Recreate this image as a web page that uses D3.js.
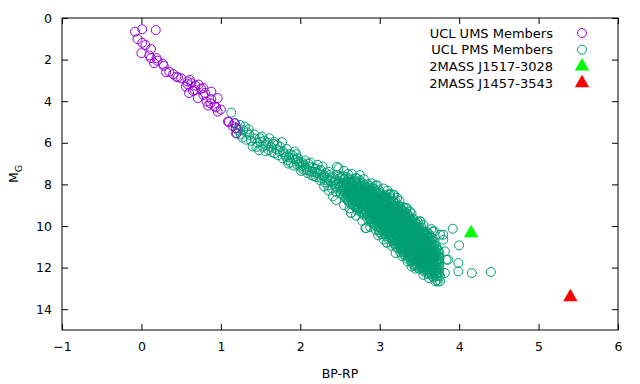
<!DOCTYPE html>
<html>
<head>
<meta charset="utf-8">
<script src="https://cdn.jsdelivr.net/npm/d3@7"></script>
<style>
  body { margin: 0; background: #fff; }
  svg { font-family: "DejaVu Sans", sans-serif; }
</style>
</head>
<body>
<div id="chart"></div>
<script>
// UCL upper main sequence members [BP-RP, M_G]
const umsStars = [
  [-0.08,0.66],[0.01,0.54],[0.18,0.58],[-0.05,1.01],[0.01,1.19],[0.00,1.69],[0.12,1.50],
  [0.12,1.93],[0.19,1.93],[0.16,2.17],[0.28,2.30],[0.35,2.58],[0.31,2.61],[0.44,2.82],
  [0.46,2.85],[0.56,3.30],[0.61,2.98],[0.63,3.13],[0.58,3.18],[0.67,3.46],[0.60,3.61],
  [0.71,3.85],[0.78,3.37],[0.88,3.54],[0.78,3.70],[0.82,4.02],[0.84,4.21],[0.87,4.10],
  [0.96,3.85],[0.96,4.50],[1.09,4.98],[1.17,5.06],[1.19,5.30],[1.20,5.54],[1.00,4.40],
  [0.92,4.25],[0.88,3.90],[0.72,3.20],[0.80,3.60],[0.50,2.90],[0.27,2.20],[0.20,2.05],
  [0.10,1.80],[0.05,1.30],[1.15,5.20],[1.10,5.00],[0.94,4.30],[0.65,3.50],[0.75,3.40],
  [0.40,2.70],[0.58,3.05],[0.68,3.25]
];

// UCL pre-main sequence members [BP-RP, M_G]
const pmsStars = [
  [1.13,4.55],[1.24,5.14],[1.21,5.38],[1.30,5.22],[1.27,5.75],[1.33,5.50],[1.18,5.05],[1.36,5.62],
  [1.38,5.90],[1.40,6.18],[1.43,5.80],[1.46,6.00],[1.49,5.78],[1.50,5.95],[1.53,6.18],[1.55,5.90],
  [1.57,6.10],[1.61,5.78],[1.60,6.35],[1.63,6.20],[1.66,6.05],[1.68,6.50],[1.70,6.30],[1.72,6.60],
  [1.74,6.40],[1.77,5.97],[1.78,6.75],[1.80,6.55],[1.82,6.66],[1.84,6.85],[1.86,6.70],[1.88,6.95],
  [1.90,6.60],[1.93,6.42],[1.94,6.80],[1.96,7.05],[1.98,6.90],[2.00,7.15],[2.02,6.95],[2.04,7.30],
  [2.05,7.05],[2.07,7.20],[2.09,7.45],[2.10,7.00],[2.12,7.35],[2.14,7.55],[2.16,7.20],[2.18,7.40],
  [2.20,7.65],[2.22,7.06],[2.23,7.50],[2.25,7.80],[2.26,7.30],[2.28,7.14],[2.29,7.60],[2.31,7.90],
  [2.32,7.45],[2.34,7.70],[2.35,8.05],[2.37,7.55],[2.38,7.85],[2.40,8.20],[2.41,7.65],[2.43,8.00],
  [2.44,7.80],[2.45,8.35],[2.46,7.15],[2.48,7.22],[2.47,7.95],[2.49,8.15],[2.50,7.70],[2.51,8.45],
  [2.52,7.95],[2.53,8.25],[2.54,7.60],
  [2.01,7.35],[2.03,7.10],[2.06,6.85],[2.08,7.30],[2.11,7.15],[2.13,6.95],[2.15,7.40],[2.17,7.60],
  [2.19,7.25],[2.21,7.45],[2.24,7.35],[2.27,7.70],[2.30,7.55],[2.33,7.80],[2.36,7.40],[2.39,7.70],
  [2.42,7.90],[2.44,8.10],[2.47,7.55],[2.49,7.85],[2.50,8.05],[2.52,8.30],[2.53,7.65],[2.41,8.58],
  [2.36,8.30],[2.30,8.10],
  [1.75,6.20],[1.79,6.45],[1.83,6.30],[1.87,6.55],[1.91,6.75],[1.95,6.55],[1.97,6.75],[1.99,7.00],
  [1.85,7.00],[1.92,7.10],
  [1.19,5.55],[1.22,5.30],[1.25,5.60],[1.28,5.40],[1.32,5.85],[1.35,5.35],[1.42,5.60],[1.45,6.20],
  [1.48,6.35],[1.52,5.70],[1.56,6.40],[1.59,6.00],[1.64,6.45],[1.67,5.95],[1.71,6.10],
  [2.55,7.75],[2.55,7.95],[2.55,8.10],[2.55,8.30],[2.55,8.50],
  [2.58,7.85],[2.58,8.05],[2.58,8.25],[2.58,8.45],[2.58,8.70],
  [2.61,7.70],[2.61,7.90],[2.61,8.15],[2.61,8.35],[2.61,8.60],[2.61,8.85],
  [2.64,7.95],[2.64,8.20],[2.64,8.40],[2.64,8.65],[2.64,9.37],
  [2.67,7.80],[2.67,8.05],[2.67,8.30],[2.67,8.50],[2.67,8.75],[2.67,9.00],
  [2.70,7.70],[2.70,8.00],[2.70,8.20],[2.70,8.45],[2.70,8.70],[2.70,8.95],
  [2.73,7.90],[2.73,8.15],[2.73,8.35],[2.73,8.60],[2.73,8.85],[2.73,9.15],
  [2.76,8.05],[2.76,8.25],[2.76,8.50],[2.76,8.75],[2.76,9.00],[2.76,9.30],
  [2.79,7.95],[2.79,8.20],[2.79,8.40],[2.79,8.65],[2.79,8.90],[2.79,9.20],[2.79,9.45],
  [2.82,8.10],[2.82,8.35],[2.82,8.55],[2.82,8.80],[2.82,9.05],[2.82,9.30],[2.82,10.10],
  [2.85,8.00],[2.85,8.25],[2.85,8.50],[2.85,8.70],[2.85,8.95],[2.85,9.20],[2.85,9.50],
  [2.88,8.20],[2.88,8.45],[2.88,8.65],[2.88,8.90],[2.88,9.10],[2.88,9.35],[2.88,9.65],
  [2.91,8.15],[2.91,8.40],[2.91,8.60],[2.91,8.85],[2.91,9.05],[2.91,9.30],[2.91,9.55],[2.91,9.80],
  [2.94,8.30],[2.94,8.55],[2.94,8.75],[2.94,9.00],[2.94,9.25],[2.94,9.45],[2.94,9.70],[2.94,9.95],
  [2.97,8.05],[2.97,8.45],[2.97,8.70],[2.97,8.95],[2.97,9.15],[2.97,9.40],[2.97,9.65],[2.97,9.90],
  [3.00,8.40],[3.00,8.65],[3.00,8.85],[3.00,9.10],[3.00,9.35],[3.00,9.55],[3.00,9.80],[3.00,10.05],[3.00,10.30],
  [3.03,8.55],[3.03,8.80],[3.03,9.00],[3.03,9.25],[3.03,9.50],[3.03,9.70],[3.03,9.95],[3.03,10.20],
  [3.06,8.50],[3.06,8.75],[3.06,8.95],[3.06,9.20],[3.06,9.40],[3.06,9.65],[3.06,9.90],[3.06,10.15],[3.06,10.40],
  [3.09,8.65],[3.09,8.90],[3.09,9.15],[3.09,9.35],[3.09,9.60],[3.09,9.85],[3.09,10.05],[3.09,10.30],[3.09,10.80],
  [3.12,8.50],[3.12,8.80],[3.12,9.05],[3.12,9.30],[3.12,9.55],[3.12,9.75],[3.12,10.00],[3.12,10.25],[3.12,10.50],
  [3.15,8.95],[3.15,9.20],[3.15,9.45],[3.15,9.70],[3.15,9.90],[3.15,10.15],[3.15,10.40],[3.15,10.65],
  [3.18,8.50],[3.18,8.90],[3.18,9.15],[3.18,9.40],[3.18,9.65],[3.18,9.85],[3.18,10.10],[3.18,10.35],[3.18,10.60],[3.18,10.85],
  [3.21,9.05],[3.21,9.30],[3.21,9.55],[3.21,9.80],[3.21,10.05],[3.21,10.30],[3.21,10.50],[3.21,10.75],[3.21,11.00],
  [3.24,9.00],[3.24,9.25],[3.24,9.50],[3.24,9.75],[3.24,10.00],[3.24,10.20],[3.24,10.45],[3.24,10.70],[3.24,10.95],
  [3.27,9.20],[3.27,9.45],[3.27,9.70],[3.27,9.95],[3.27,10.15],[3.27,10.40],[3.27,10.65],[3.27,10.90],[3.27,11.15],
  [3.30,9.10],[3.30,9.40],[3.30,9.65],[3.30,9.90],[3.30,10.10],[3.30,10.35],[3.30,10.60],[3.30,10.85],[3.30,11.10],[3.30,11.35],
  [3.33,9.14],[3.33,9.55],[3.33,9.80],[3.33,10.05],[3.33,10.30],[3.33,10.55],[3.33,10.75],[3.33,11.00],[3.33,11.25],
  [3.36,9.50],[3.36,9.75],[3.36,10.00],[3.36,10.25],[3.36,10.50],[3.36,10.70],[3.36,10.95],[3.36,11.20],[3.36,11.45],
  [3.39,9.70],[3.39,9.95],[3.39,10.20],[3.39,10.45],[3.39,10.65],[3.39,10.90],[3.39,11.15],[3.39,11.40],[3.39,11.65],
  [3.42,9.65],[3.42,9.90],[3.42,10.15],[3.42,10.40],[3.42,10.60],[3.42,10.85],[3.42,11.10],[3.42,11.35],[3.42,11.60],[3.42,11.85],
  [3.45,9.85],[3.45,10.10],[3.45,10.35],[3.45,10.55],[3.45,10.80],[3.45,11.05],[3.45,11.30],[3.45,11.55],[3.45,11.80],
  [3.48,9.80],[3.48,10.05],[3.48,10.30],[3.48,10.50],[3.48,10.75],[3.48,11.00],[3.48,11.25],[3.48,11.50],[3.48,11.75],[3.48,12.00],
  [3.51,9.78],[3.51,10.25],[3.51,10.45],[3.51,10.70],[3.51,10.95],[3.51,11.20],[3.51,11.45],[3.51,11.70],[3.51,11.95],
  [3.54,10.20],[3.54,10.40],[3.54,10.65],[3.54,10.90],[3.54,11.15],[3.54,11.40],[3.54,11.65],[3.54,11.90],[3.54,12.10],
  [3.57,10.35],[3.57,10.60],[3.57,10.85],[3.57,11.10],[3.57,11.35],[3.57,11.60],[3.57,11.85],[3.57,12.05],
  [3.60,10.30],[3.60,10.55],[3.60,10.80],[3.60,11.05],[3.60,11.30],[3.60,11.55],[3.60,11.80],[3.60,12.00],[3.60,12.25],
  [3.63,10.50],[3.63,10.75],[3.63,11.00],[3.63,11.25],[3.63,11.50],[3.63,11.75],[3.63,11.95],[3.63,12.20],
  [3.66,10.70],[3.66,10.95],[3.66,11.20],[3.66,11.45],[3.66,11.70],[3.66,11.90],[3.66,12.15],[3.66,12.40],
  [3.69,10.26],[3.69,10.90],[3.69,11.15],[3.69,11.40],[3.69,11.65],[3.69,11.85],[3.69,12.10],[3.69,12.35],
  [3.72,11.10],[3.72,11.35],[3.72,11.60],[3.72,11.80],[3.72,12.05],[3.72,12.30],[3.72,12.60],
  [3.75,11.30],[3.75,11.55],[3.75,11.75],[3.75,12.00],[3.75,12.25],
  [2.71,7.70],[3.17,8.50],[3.13,8.45],[2.90,7.95],[3.05,8.20],[3.25,8.80],[3.38,9.30],[2.60,7.50],
  [2.75,7.55],[2.83,10.10],[2.95,10.20],[3.20,11.30],[3.35,11.70],[3.45,12.05],[3.55,12.35],
  [3.62,12.50],[3.70,12.66],[3.73,12.67],[2.64,9.37],[3.09,10.80],
  [3.92,10.13],[4.00,10.93],[3.99,11.78],[3.99,12.18],[4.16,12.26],[4.40,12.21],[3.86,11.62],
  [3.76,12.66],[3.80,10.42],[3.82,12.26],[3.76,12.42],[3.76,10.42],[3.82,11.22],[3.84,11.62],
  [3.80,10.66],[3.34,9.14],[3.67,10.26],[3.51,9.78],
  // core of the sequence, in between the columns above
  [2.57,7.65],[2.57,7.88],[2.57,8.18],[2.57,8.38],[2.57,8.62],
  [2.60,7.98],[2.60,8.28],[2.60,8.52],[2.60,8.78],
  [2.63,7.78],[2.63,8.08],[2.63,8.32],[2.63,8.55],[2.63,8.92],
  [2.66,7.92],[2.66,8.18],[2.66,8.42],[2.66,8.62],[2.66,8.88],
  [2.69,7.85],[2.69,8.12],[2.69,8.38],[2.69,8.58],[2.69,8.82],[2.69,9.08],
  [2.72,8.02],[2.72,8.28],[2.72,8.52],[2.72,8.72],[2.72,8.98],[2.72,9.25],
  [2.75,7.82],[2.75,8.12],[2.75,8.38],[2.75,8.62],[2.75,8.88],[2.75,9.12],
  [2.78,8.08],[2.78,8.32],[2.78,8.58],[2.78,8.82],[2.78,9.08],[2.78,9.35],
  [2.81,8.02],[2.81,8.25],[2.81,8.48],[2.81,8.72],[2.81,8.98],[2.81,9.18],[2.81,9.42],
  [2.84,8.15],[2.84,8.42],[2.84,8.62],[2.84,8.85],[2.84,9.08],[2.84,9.38],[2.84,9.62],
  [2.87,8.08],[2.87,8.32],[2.87,8.58],[2.87,8.78],[2.87,9.02],[2.87,9.25],[2.87,9.52],[2.87,9.78],
  [2.90,8.28],[2.90,8.52],[2.90,8.72],[2.90,8.98],[2.90,9.18],[2.90,9.42],[2.90,9.68],
  [2.93,8.22],[2.93,8.48],[2.93,8.68],[2.93,8.92],[2.93,9.15],[2.93,9.38],[2.93,9.62],[2.93,9.88],
  [2.96,8.38],[2.96,8.62],[2.96,8.82],[2.96,9.08],[2.96,9.32],[2.96,9.52],[2.96,9.78],[2.96,10.02],
  [2.99,8.28],[2.99,8.52],[2.99,8.78],[2.99,8.98],[2.99,9.22],[2.99,9.48],[2.99,9.68],[2.99,9.92],[2.99,10.18],
  [3.02,8.48],[3.02,8.72],[3.02,8.92],[3.02,9.18],[3.02,9.42],[3.02,9.62],[3.02,9.88],[3.02,10.12],[3.02,10.38],
  [3.05,8.62],[3.05,8.88],[3.05,9.08],[3.05,9.32],[3.05,9.58],[3.05,9.78],[3.05,10.02],[3.05,10.28],
  [3.08,8.58],[3.08,8.82],[3.08,9.02],[3.08,9.28],[3.08,9.52],[3.08,9.72],[3.08,9.98],[3.08,10.22],[3.08,10.48],
  [3.11,8.72],[3.11,8.98],[3.11,9.22],[3.11,9.42],[3.11,9.68],[3.11,9.92],[3.11,10.12],[3.11,10.38],[3.11,10.62],
  [3.14,8.68],[3.14,8.88],[3.14,9.12],[3.14,9.38],[3.14,9.62],[3.14,9.82],[3.14,10.08],[3.14,10.32],[3.14,10.58],
  [3.17,8.78],[3.17,9.02],[3.17,9.28],[3.17,9.52],[3.17,9.78],[3.17,9.98],[3.17,10.22],[3.17,10.48],[3.17,10.72],
  [3.20,8.82],[3.20,9.12],[3.20,9.38],[3.20,9.62],[3.20,9.88],[3.20,10.12],[3.20,10.38],[3.20,10.62],[3.20,10.88],
  [3.23,9.12],[3.23,9.38],[3.23,9.62],[3.23,9.88],[3.23,10.12],[3.23,10.38],[3.23,10.58],[3.23,10.82],[3.23,11.08],
  [3.26,9.08],[3.26,9.32],[3.26,9.58],[3.26,9.82],[3.26,10.08],[3.26,10.28],[3.26,10.52],[3.26,10.78],[3.26,11.02],[3.26,11.28],
  [3.29,9.28],[3.29,9.52],[3.29,9.78],[3.29,10.02],[3.29,10.22],[3.29,10.48],[3.29,10.72],[3.29,10.98],[3.29,11.22],
  [3.32,9.32],[3.32,9.48],[3.32,9.72],[3.32,9.98],[3.32,10.22],[3.32,10.42],[3.32,10.68],[3.32,10.92],[3.32,11.18],[3.32,11.42],
  [3.35,9.42],[3.35,9.62],[3.35,9.88],[3.35,10.12],[3.35,10.38],[3.35,10.62],[3.35,10.82],[3.35,11.08],[3.35,11.32],[3.35,11.58],
  [3.38,9.58],[3.38,9.82],[3.38,10.08],[3.38,10.32],[3.38,10.58],[3.38,10.78],[3.38,11.02],[3.38,11.28],[3.38,11.52],
  [3.41,9.78],[3.41,10.02],[3.41,10.28],[3.41,10.52],[3.41,10.72],[3.41,10.98],[3.41,11.22],[3.41,11.48],[3.41,11.72],
  [3.44,9.72],[3.44,9.98],[3.44,10.22],[3.44,10.48],[3.44,10.68],[3.44,10.92],[3.44,11.18],[3.44,11.42],[3.44,11.68],[3.44,11.92],
  [3.47,9.92],[3.47,10.18],[3.47,10.42],[3.47,10.62],[3.47,10.88],[3.47,11.12],[3.47,11.38],[3.47,11.62],[3.47,11.88],
  [3.50,10.12],[3.50,10.38],[3.50,10.58],[3.50,10.82],[3.50,11.08],[3.50,11.32],[3.50,11.58],[3.50,11.82],[3.50,12.05],
  [3.53,10.08],[3.53,10.32],[3.53,10.52],[3.53,10.78],[3.53,11.02],[3.53,11.28],[3.53,11.52],[3.53,11.78],[3.53,12.02],
  [3.56,10.28],[3.56,10.48],[3.56,10.72],[3.56,10.98],[3.56,11.22],[3.56,11.48],[3.56,11.72],[3.56,11.98],[3.56,12.18],
  [3.59,10.42],[3.59,10.68],[3.59,10.92],[3.59,11.18],[3.59,11.42],[3.59,11.68],[3.59,11.92],[3.59,12.12],
  [3.62,10.38],[3.62,10.62],[3.62,10.88],[3.62,11.12],[3.62,11.38],[3.62,11.62],[3.62,11.88],[3.62,12.08],[3.62,12.32],
  [3.65,10.58],[3.65,10.82],[3.65,11.08],[3.65,11.32],[3.65,11.58],[3.65,11.82],[3.65,12.02],[3.65,12.28],
  [3.68,10.78],[3.68,11.02],[3.68,11.28],[3.68,11.52],[3.68,11.78],[3.68,11.98],[3.68,12.22],[3.68,12.48],
  [3.71,10.98],[3.71,11.22],[3.71,11.48],[3.71,11.72],[3.71,11.92],[3.71,12.18],[3.71,12.42],
  [3.74,11.18],[3.74,11.42],[3.74,11.68],[3.74,11.88],[3.74,12.12],[3.74,12.38],
  // ragged edges of the sequence
  [2.45,8.75],[2.55,9.00],[2.62,9.15],[2.70,9.50],[2.78,9.75],[2.88,10.05],[2.98,10.45],[3.05,10.65],
  [3.15,10.95],[3.28,11.45],[3.40,11.95],[2.55,7.35],[2.65,7.50],[2.80,7.75],[2.95,8.05],[3.10,8.30],
  [3.22,8.65],[3.40,9.40],[3.55,9.95],[3.65,10.15]
];

const target1517 = [[4.15, 10.34]];
const target1457 = [[5.40, 13.42]];

const legendLabels = ["UCL UMS Members", "UCL PMS Members", "2MASS J1517-3028", "2MASS J1457-3543"];
const xTicks = [-1, 0, 1, 2, 3, 4, 5, 6];
const yTicks = [0, 2, 4, 6, 8, 10, 12, 14];

const width = 640, height = 384;
const margin = {top: 18, right: 22, bottom: 54, left: 62};

const svg = d3.select("#chart")
  .append("svg")
  .attr("width", width)
  .attr("height", height);

const x = d3.scaleLinear().domain([-1, 6]).range([margin.left, width - margin.right]);
const y = d3.scaleLinear().domain([0, 15]).range([margin.top, height - margin.bottom]);

const purple = "#9400d3", green = "#009e73";

// points first, frame on top like gnuplot
svg.append("g")
  .selectAll("circle")
  .data(pmsStars)
  .join("circle")
  .attr("cx", d => x(d[0]))
  .attr("cy", d => y(d[1]))
  .attr("r", 4.5)
  .attr("fill", "none")
  .attr("stroke", green)
  .attr("stroke-width", 1);

svg.append("g")
  .selectAll("circle")
  .data(umsStars)
  .join("circle")
  .attr("cx", d => x(d[0]))
  .attr("cy", d => y(d[1]))
  .attr("r", 4.5)
  .attr("fill", "none")
  .attr("stroke", purple)
  .attr("stroke-width", 1);

const tri = d3.symbol().type(d3.symbolTriangle).size(90);

svg.append("g")
  .selectAll("path")
  .data(target1517)
  .join("path")
  .attr("d", tri)
  .attr("transform", d => `translate(${x(d[0])},${y(d[1])})`)
  .attr("fill", "#00ff00");

svg.append("g")
  .selectAll("path")
  .data(target1457)
  .join("path")
  .attr("d", tri)
  .attr("transform", d => `translate(${x(d[0])},${y(d[1])})`)
  .attr("fill", "#ff0000");

// axes: inward ticks on all four sides
const tickLen = 6;
const axisStyle = g => g.call(g => g.select(".domain").remove())
  .call(g => g.selectAll("line").attr("stroke", "#000"))
  .call(g => g.selectAll("text").attr("fill", "#000").attr("font-size", 12.5).attr("font-family", "DejaVu Sans, sans-serif"));

svg.append("g")
  .attr("transform", `translate(0,${height - margin.bottom})`)
  .call(d3.axisBottom(x).tickValues(xTicks).tickFormat(d3.format("d")).tickSize(-tickLen).tickPadding(12))
  .call(axisStyle);

svg.append("g")
  .attr("transform", `translate(0,${margin.top})`)
  .call(d3.axisTop(x).tickValues(xTicks).tickFormat("").tickSize(-tickLen))
  .call(axisStyle);

svg.append("g")
  .attr("transform", `translate(${margin.left},0)`)
  .call(d3.axisLeft(y).tickValues(yTicks).tickFormat(d3.format("d")).tickSize(-tickLen).tickPadding(10))
  .call(axisStyle);

svg.append("g")
  .attr("transform", `translate(${width - margin.right},0)`)
  .call(d3.axisRight(y).tickValues(yTicks).tickFormat("").tickSize(-tickLen))
  .call(axisStyle);

svg.append("rect")
  .attr("x", margin.left)
  .attr("y", margin.top)
  .attr("width", width - margin.left - margin.right)
  .attr("height", height - margin.top - margin.bottom)
  .attr("fill", "none")
  .attr("stroke", "#000")
  .attr("stroke-width", 1);

// axis labels
svg.append("text")
  .attr("x", (margin.left + width - margin.right) / 2)
  .attr("y", 378)
  .attr("text-anchor", "middle")
  .attr("font-size", 12.5)
  .text("BP-RP");

const ylab = svg.append("text")
  .attr("transform", "translate(18,174) rotate(-90)")
  .attr("text-anchor", "middle")
  .attr("font-size", 12.5);
ylab.append("tspan").text("M");
ylab.append("tspan").attr("font-size", 9.5).attr("dy", 4).text("G");

// legend
const legend = svg.append("g");
const rowY = [33, 49.7, 66.4, 83.1];
legendLabels.forEach((label, i) => {
  legend.append("text")
    .attr("x", 553)
    .attr("y", rowY[i])
    .attr("dy", "0.35em")
    .attr("text-anchor", "end")
    .attr("font-size", 13)
    .text(label);
});
legend.append("circle").attr("cx", 582).attr("cy", rowY[0]).attr("r", 4.5)
  .attr("fill", "none").attr("stroke", purple);
legend.append("circle").attr("cx", 582).attr("cy", rowY[1]).attr("r", 4.5)
  .attr("fill", "none").attr("stroke", green);
legend.append("path").attr("d", tri).attr("transform", `translate(582,${rowY[2]})`).attr("fill", "#00ff00");
legend.append("path").attr("d", tri).attr("transform", `translate(582,${rowY[3]})`).attr("fill", "#ff0000");
</script>
</body>
</html>
